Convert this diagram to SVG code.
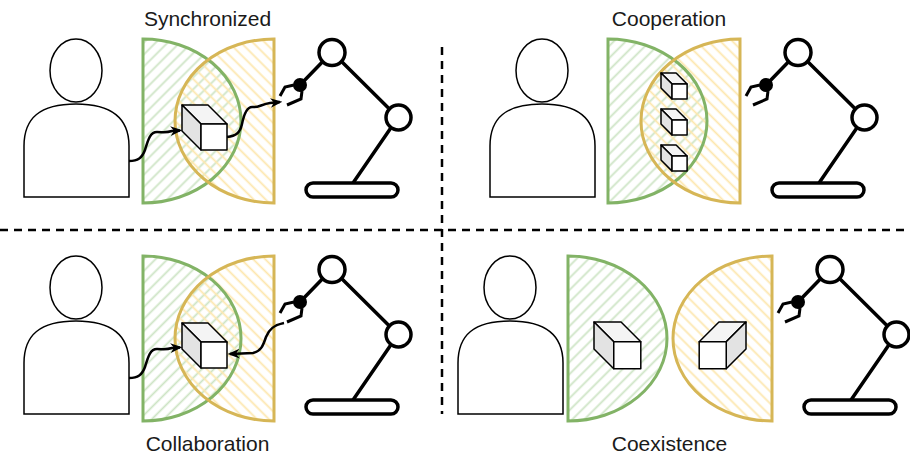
<svg xmlns="http://www.w3.org/2000/svg" xmlns:xlink="http://www.w3.org/1999/xlink" width="910" height="455" viewBox="0 0 910 455">
  <style>
    .title { font-family: "Liberation Sans", Arial, sans-serif; font-size: 21px; fill: #1a1a1a; text-anchor: middle; }
    .person { fill: #ffffff; stroke: #000000; stroke-width: 1.5; }
    .fillG { fill: url(#hatchG); stroke: none; }
    .fillY { fill: url(#hatchY); stroke: none; }
    .edgeG { fill: none; stroke: #82b366; stroke-width: 3; }
    .edgeY { fill: none; stroke: #d6b656; stroke-width: 3; }
    .arm { fill: none; stroke: #000000; stroke-width: 3.5; stroke-linecap: round; }
    .joint { fill: #ffffff; stroke: #000000; stroke-width: 3.5; }
    .finger { fill: none; stroke: #000000; stroke-width: 3; stroke-linejoin: miter; }
    .divider { fill: none; stroke: #000000; stroke-width: 2.5; stroke-dasharray: 8 6; }
    .flow { fill: none; stroke: #000000; stroke-width: 2.5; marker-end: url(#arrow); }
    .cube polygon, .cube rect { stroke: #000000; stroke-width: 1.5; stroke-linejoin: round; vector-effect: non-scaling-stroke; }
  </style>
  <defs>
    <pattern id="hatchG" patternUnits="userSpaceOnUse" width="8.5" height="8.5" patternTransform="rotate(45)">
      <line x1="4.25" y1="0" x2="4.25" y2="8.5" stroke="#cde4c5" stroke-width="1.8"/>
    </pattern>
    <pattern id="hatchY" patternUnits="userSpaceOnUse" width="8.5" height="8.5" patternTransform="rotate(-45)">
      <line x1="4.25" y1="0" x2="4.25" y2="8.5" stroke="#fde7ae" stroke-width="1.8"/>
    </pattern>
    <marker id="arrow" viewBox="0 0 10 10" refX="8" refY="5" markerWidth="12" markerHeight="12" markerUnits="userSpaceOnUse" orient="auto">
      <path d="M0,1 L10,5 L0,9 L3,5 Z" fill="#000000"/>
    </marker>
    <!-- box drawn with its depth to the upper left -->
    <g id="cube" class="cube">
      <polygon points="0,0 26,0 45,19 19,19" fill="#f4f4f4"/>
      <polygon points="0,0 19,19 19,45 0,26" fill="#e3e3e3"/>
      <rect x="19" y="19" width="26" height="26" fill="#ffffff"/>
    </g>
    <!-- human figure -->
    <g id="human">
      <path class="person" d="M24,197 L24,146 C24,118 40,104 76,104 C112,104 129,118 129,146 L129,197 Z"/>
      <ellipse class="person" cx="76" cy="70.5" rx="26" ry="31.5"/>
    </g>
    <!-- robot arm with gripper -->
    <g id="robot">
      <line class="arm" x1="332" y1="52" x2="398" y2="117.5"/>
      <line class="arm" x1="398" y1="117.5" x2="353" y2="183"/>
      <line class="arm" x1="332" y1="52" x2="300" y2="85"/>
      <rect class="joint" x="306" y="183" width="92" height="14" rx="7"/>
      <circle class="joint" cx="332" cy="52.5" r="13"/>
      <circle class="joint" cx="398.5" cy="117.5" r="12.5"/>
      <circle cx="300" cy="85" r="7" fill="#000000"/>
      <polyline class="finger" points="294,85 285,87 280,96"/>
      <polyline class="finger" points="302,91 301,99 287,105"/>
    </g>
    <!-- half-ellipse work zones -->
    <path id="zoneL1" d="M143,39 A98,82 0 0 1 143,203 Z"/>
    <path id="zoneR1" d="M274,39 A99,82 0 0 0 274,203 Z"/>
    <path id="zoneL2" d="M608,39 A99,82 0 0 1 608,203 Z"/>
    <path id="zoneR2" d="M740,39 A99,82 0 0 0 740,203 Z"/>
    <path id="zoneL3" d="M143,256 A98,82.5 0 0 1 143,421 Z"/>
    <path id="zoneR3" d="M274,256 A99,82.5 0 0 0 274,421 Z"/>
    <path id="zoneL4" d="M568,256 A99,82.5 0 0 1 568,421 Z"/>
    <path id="zoneR4" d="M772,256 A99,82.5 0 0 0 772,421 Z"/>
  </defs>

  <!-- quadrant dividers -->
  <g id="dividers">
    <line class="divider" x1="0" y1="230" x2="910" y2="230"/>
    <line class="divider" x1="442" y1="47" x2="442" y2="414"/>
  </g>

  <!-- titles -->
  <text class="title" x="207.5" y="26">Synchronized</text>
  <text class="title" x="669" y="26">Cooperation</text>
  <text class="title" x="207.5" y="451">Collaboration</text>
  <text class="title" x="669.5" y="451">Coexistence</text>

  <!-- people -->
  <g id="sync-human"><use xlink:href="#human"/></g>
  <g id="coop-human"><use xlink:href="#human" transform="translate(466,0)"/></g>
  <g id="collab-human"><use xlink:href="#human" transform="translate(0,217)"/></g>
  <g id="coex-human"><use xlink:href="#human" transform="translate(434,217)"/></g>

  <!-- work zones: hatching first, outlines on top -->
  <g id="sync-zones">
    <use xlink:href="#zoneL1" class="fillG"/><use xlink:href="#zoneR1" class="fillY"/>
    <use xlink:href="#zoneL1" class="edgeG"/><use xlink:href="#zoneR1" class="edgeY"/>
  </g>
  <g id="coop-zones">
    <use xlink:href="#zoneL2" class="fillG"/><use xlink:href="#zoneR2" class="fillY"/>
    <use xlink:href="#zoneL2" class="edgeG"/><use xlink:href="#zoneR2" class="edgeY"/>
  </g>
  <g id="collab-zones">
    <use xlink:href="#zoneL3" class="fillG"/><use xlink:href="#zoneR3" class="fillY"/>
    <use xlink:href="#zoneL3" class="edgeG"/><use xlink:href="#zoneR3" class="edgeY"/>
  </g>
  <g id="coex-zones">
    <use xlink:href="#zoneL4" class="fillG"/><use xlink:href="#zoneR4" class="fillY"/>
    <use xlink:href="#zoneL4" class="edgeG"/><use xlink:href="#zoneR4" class="edgeY"/>
  </g>

  <!-- robots -->
  <g id="sync-robot"><use xlink:href="#robot"/></g>
  <g id="coop-robot"><use xlink:href="#robot" transform="translate(466,0)"/></g>
  <g id="collab-robot"><use xlink:href="#robot" transform="translate(0,217)"/></g>
  <g id="coex-robot"><use xlink:href="#robot" transform="translate(498,217)"/></g>

  <!-- hand-over paths -->
  <g id="connectors">
    <path class="flow" d="M129,161 C138,161 142,158 145,150 C148,140 150,132 157,132 C163,132 166,133 172,131 L180,130.5"/>
    <path class="flow" d="M227,137 C236,136 240,133 242,124 C244,114 247,106 253,107 C258,108 262,104 270,103 L280,102"/>
    <path class="flow" d="M129,378 C138,378 142,375 145,367 C148,357 150,349 157,349 C163,349 166,350 172,348 L180,347.5"/>
    <path class="flow" d="M284,323 C274,325 269,329 266,337 C263,346 261,351 253,353 L230,354"/>
  </g>

  <!-- objects -->
  <g id="sync-object"><use xlink:href="#cube" transform="translate(182,105)"/></g>
  <g id="coop-object-1"><use xlink:href="#cube" transform="translate(661,73) scale(0.58)"/></g>
  <g id="coop-object-2"><use xlink:href="#cube" transform="translate(661,109) scale(0.58)"/></g>
  <g id="coop-object-3"><use xlink:href="#cube" transform="translate(661,145) scale(0.58)"/></g>
  <g id="collab-object"><use xlink:href="#cube" transform="translate(182,323)"/></g>
  <g id="coex-object-human"><use xlink:href="#cube" transform="translate(594,322) scale(1.04)"/></g>
  <g id="coex-object-robot"><use xlink:href="#cube" transform="translate(746,322) scale(-1.04,1.04)"/></g>
</svg>
